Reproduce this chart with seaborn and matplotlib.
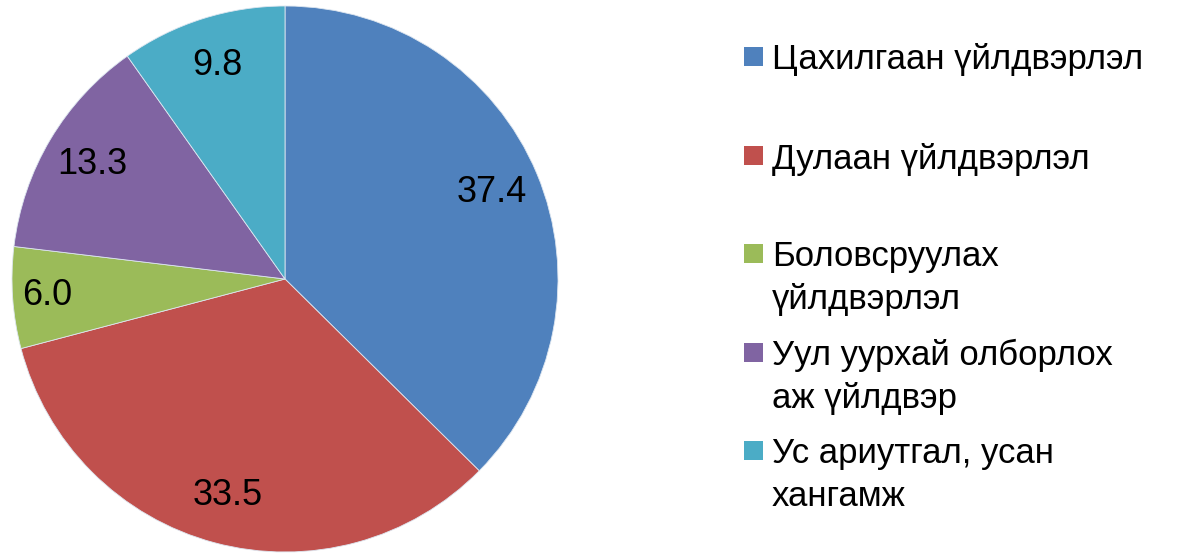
import numpy as np
import matplotlib
matplotlib.use('Agg')
import matplotlib.pyplot as plt
import matplotlib.patches as mpatches
import seaborn as sns

# data
categories = ['Цахилгаан үйлдвэрлэл',
              'Дулаан үйлдвэрлэл',
              'Боловсруулах\nүйлдвэрлэл',
              'Уул уурхай олборлох\nаж үйлдвэр',
              'Ус ариутгал, усан\nхангамж']
shares = [37.4, 33.5, 6.0, 13.3, 9.8]
colors = ['#4F81BD', '#C0504D', '#9BBB59', '#8064A2', '#4BACC6']

sns.set_theme(style='white')
plt.rcParams['font.family'] = ['Liberation Sans', 'DejaVu Sans']

W, H = 1181, 553
fig = plt.figure(figsize=(W / 100, H / 100), dpi=100)

# pie: centre (285, 279) px, radius 273 px
cx, cy, r = 285, 279, 273
ax = fig.add_axes([(cx - r) / W, (H - cy - r) / H, 2 * r / W, 2 * r / H])
palette = sns.color_palette(colors)
wedges, _, autotexts = ax.pie(shares,
                              colors=palette,
                              startangle=90,
                              counterclock=False,
                              autopct=lambda p: f'{p:.1f}',
                              pctdistance=0.82,
                              wedgeprops={'edgecolor': '#dde6f0', 'linewidth': 0.6},
                              textprops={'fontsize': 26, 'color': 'black'})
# Excel's best-fit pushes the small slice label a bit outwards
x, y = autotexts[2].get_position()
autotexts[2].set_position((x * 0.875 / 0.82, y * 0.875 / 0.82))
ax.set_xlim(-1, 1)
ax.set_ylim(-1, 1)
ax.set_aspect('equal')

# legend, Excel style: fixed slots, marker aligned with first line
slot_y = [56.5, 155.5, 253.5, 352, 450.5]
line_h = 43
for lab, col, yc in zip(categories, colors, slot_y):
    sq = mpatches.Rectangle((744 / W, 1 - (yc + 9.5) / H), 19 / W, 19 / H,
                            transform=fig.transFigure, facecolor=col,
                            edgecolor='none')
    fig.patches.append(sq)
    for k, line in enumerate(lab.split('\n')):
        fig.text(772 / W, 1 - (yc + k * line_h) / H, line, fontsize=25,
                 va='center_baseline', ha='left', color='black')

fig.savefig('out.png', dpi=100)
